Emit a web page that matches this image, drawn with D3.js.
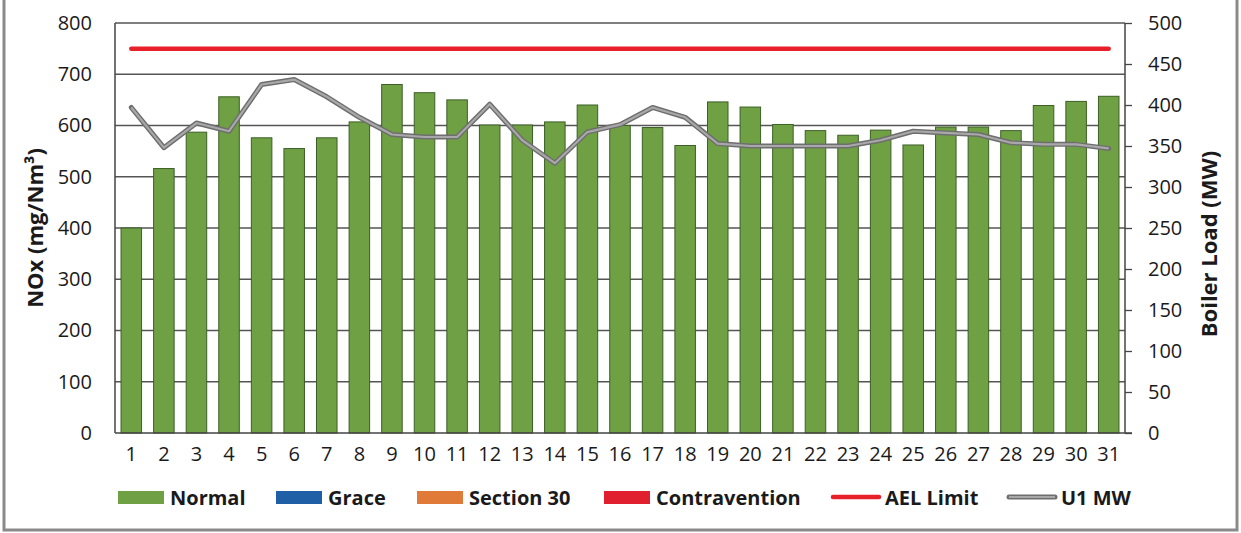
<!DOCTYPE html>
<html>
<head>
<meta charset="utf-8">
<script src="https://cdn.jsdelivr.net/npm/d3@7"></script>
<style>
  body { margin: 0; background: #fff; }
  text { font-family: "Open Sans", sans-serif; fill: #1a1a1a; }
</style>
</head>
<body>
<svg id="chart" width="1241" height="533"></svg>
<script>

// Data

var days = d3.range(1, 32).map(String);

var noxNormal = [400, 516, 587, 656, 576, 555, 576, 607, 680, 664,
                 650, 601, 601, 607, 640, 600, 596, 561, 646, 636,
                 602, 590, 581, 591, 562, 597, 597, 590, 639, 647, 657];

var aelLimit = 750;

var u1MW = [397, 348, 378, 368, 425, 431, 410, 385, 364, 361,
            361, 401, 357, 329, 367, 376, 397, 385, 353, 350,
            350, 350, 350, 357, 368, 366, 364, 354, 352, 352, 347];

var leftTicks = [0, 100, 200, 300, 400, 500, 600, 700, 800];
var rightTicks = [0, 50, 100, 150, 200, 250, 300, 350, 400, 450, 500];

var legendItems = [
  { name: "Normal", type: "bar", color: "#70a044" },
  { name: "Grace", type: "bar", color: "#1f5fa6" },
  { name: "Section 30", type: "bar", color: "#e07a38" },
  { name: "Contravention", type: "bar", color: "#e0202e" },
  { name: "AEL Limit", type: "line", color: "#e8202a" },
  { name: "U1 MW", type: "line", color: "#9a9a9a" }
];

// Layout

var svg = d3.select("#chart");
var plotL = 115, plotR = 1125, plotT = 23, plotB = 433;

var x = d3.scaleBand()
  .domain(days)
  .range([plotL, plotR])
  .paddingInner(0.37)
  .paddingOuter(0.185);

var yLeft = d3.scaleLinear().domain([0, 800]).range([plotB, plotT]);
var yRight = d3.scaleLinear().domain([0, 500]).range([plotB, plotT]);

// outer frame
svg.append("rect")
  .attr("x", 4).attr("y", -4)
  .attr("width", 1233).attr("height", 534)
  .attr("fill", "none")
  .attr("stroke", "#8a8a8a")
  .attr("stroke-width", 3);

// gridlines
svg.append("g")
  .selectAll("line")
  .data(leftTicks.slice(1))
  .enter()
  .append("line")
  .attr("x1", plotL).attr("x2", plotR)
  .attr("y1", function(d) { return yLeft(d); })
  .attr("y2", function(d) { return yLeft(d); })
  .attr("stroke", "#555")
  .attr("stroke-width", 1.3);

// bars
svg.append("g")
  .selectAll("rect")
  .data(noxNormal)
  .enter()
  .append("rect")
  .attr("x", function(d, i) { return x(days[i]); })
  .attr("y", function(d) { return yLeft(d); })
  .attr("width", x.bandwidth())
  .attr("height", function(d) { return plotB - yLeft(d); })
  .attr("fill", "#70a044")
  .attr("stroke", "#3b5f26")
  .attr("stroke-width", 1);

// axes
var axisLeft = svg.append("g")
  .attr("transform", "translate(" + plotL + ",0)")
  .call(d3.axisLeft(yLeft).tickValues(leftTicks).tickSize(0).tickPadding(23));

var axisRight = svg.append("g")
  .attr("transform", "translate(" + plotR + ",0)")
  .call(d3.axisRight(yRight).tickValues(rightTicks).tickSize(7).tickPadding(16));

var axisBottom = svg.append("g")
  .attr("transform", "translate(0," + plotB + ")")
  .call(d3.axisBottom(x).tickSize(0).tickPadding(14));

[axisLeft, axisRight, axisBottom].forEach(function(a) {
  a.selectAll("path.domain").attr("stroke", "#444").attr("stroke-width", 1.5);
  a.selectAll("line").attr("stroke", "#444").attr("stroke-width", 1.3);
  a.selectAll("text")
    .style("font-family", "'Open Sans', sans-serif")
    .style("font-size", "20px")
    .attr("fill", "#1a1a1a");
});
axisLeft.select("path.domain").attr("d", "M0," + plotT + "V" + plotB);
axisRight.select("path.domain").attr("d", "M0," + plotT + "V" + plotB);
axisBottom.select("path.domain").attr("d", "M" + plotL + ",0H" + (plotR + 7));

// AEL limit line
var xc = function(i) { return x(days[i]) + x.bandwidth() / 2; };

svg.append("line")
  .attr("x1", xc(0)).attr("x2", xc(days.length - 1))
  .attr("y1", yLeft(aelLimit)).attr("y2", yLeft(aelLimit))
  .attr("stroke", "#e8202a")
  .attr("stroke-width", 4.5)
  .attr("stroke-linecap", "round");

// U1 MW line
var mwLine = d3.line()
  .x(function(d, i) { return xc(i); })
  .y(function(d) { return yRight(d); });

svg.append("path")
  .datum(u1MW)
  .attr("d", mwLine)
  .attr("fill", "none")
  .attr("stroke", "#6e6e6e")
  .attr("stroke-width", 5)
  .attr("stroke-linejoin", "round")
  .attr("stroke-linecap", "round");

svg.append("path")
  .datum(u1MW)
  .attr("d", mwLine)
  .attr("fill", "none")
  .attr("stroke", "#a8a8a8")
  .attr("stroke-width", 2.2)
  .attr("stroke-linejoin", "round");

// axis titles
svg.append("text")
  .attr("transform", "translate(43,228) rotate(-90)")
  .attr("text-anchor", "middle")
  .style("font-size", "22px")
  .style("font-weight", "bold")
  .text("NOx (mg/Nm³)");

svg.append("text")
  .attr("transform", "translate(1217,244) rotate(-90)")
  .attr("text-anchor", "middle")
  .style("font-size", "22px")
  .style("font-weight", "bold")
  .text("Boiler Load (MW)");

// legend
var legendX = [118, 276, 417, 604, 831, 1007];

var legend = svg.append("g")
  .selectAll(".legend")
  .data(legendItems)
  .enter()
  .append("g")
  .attr("class", "legend")
  .attr("transform", function(d, i) { return "translate(" + legendX[i] + ",498)"; });

legend.filter(function(d) { return d.type == "bar"; })
  .append("rect")
  .attr("x", 0).attr("y", -7)
  .attr("width", 46).attr("height", 13)
  .attr("fill", function(d) { return d.color; });

legend.filter(function(d) { return d.name == "AEL Limit"; })
  .append("line")
  .attr("x1", 2).attr("x2", 48)
  .attr("y1", -1).attr("y2", -1)
  .attr("stroke", function(d) { return d.color; })
  .attr("stroke-width", 4.5)
  .attr("stroke-linecap", "round");

legend.filter(function(d) { return d.name == "U1 MW"; })
  .append("line")
  .attr("x1", 2).attr("x2", 48)
  .attr("y1", -1).attr("y2", -1)
  .attr("stroke", "#6e6e6e")
  .attr("stroke-width", 5)
  .attr("stroke-linecap", "round");

legend.filter(function(d) { return d.name == "U1 MW"; })
  .append("line")
  .attr("x1", 2).attr("x2", 48)
  .attr("y1", -1).attr("y2", -1)
  .attr("stroke", "#a8a8a8")
  .attr("stroke-width", 2.2);

legend.append("text")
  .attr("x", function(d) { return d.type == "bar" ? 52 : 54; })
  .attr("y", 0)
  .attr("dy", ".35em")
  .style("font-size", "20px")
  .style("font-weight", "bold")
  .text(function(d) { return d.name; });

</script>
</body>
</html>
